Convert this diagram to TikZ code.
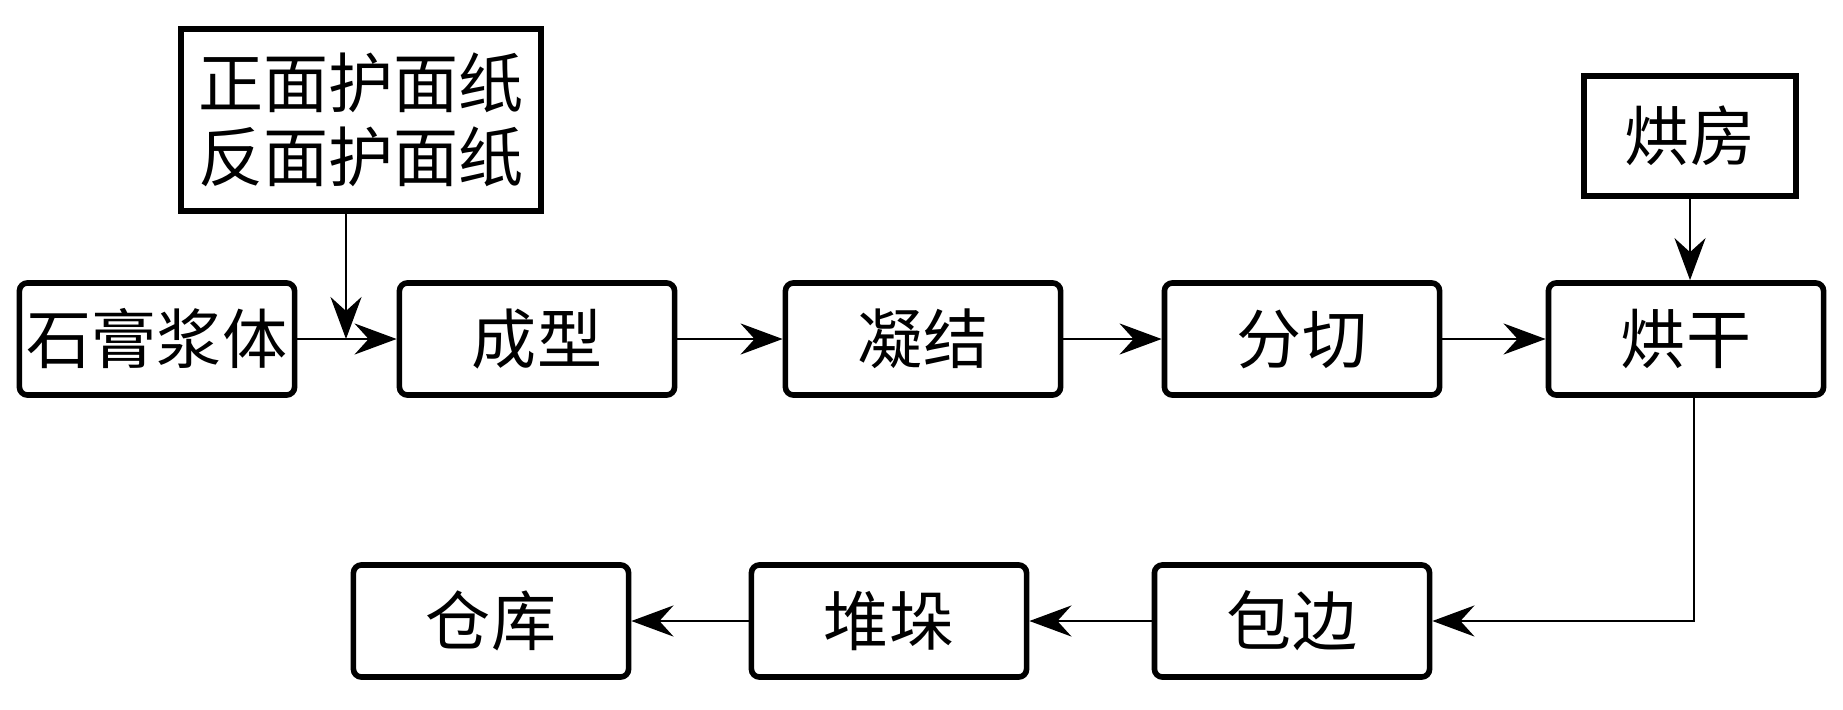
\documentclass[tikz,border=0pt]{standalone}
\usepackage{fontspec}
\setmainfont{Noto Sans CJK SC}
\usetikzlibrary{arrows.meta}

\begin{document}
\begin{tikzpicture}[x=0.01cm, y=-0.01cm,
    >={Stealth[length=4.2mm, width=3.1mm, inset=1.4mm]}]

        \useasboundingbox (0,0) rectangle (1843,709);

        \begin{scope}[every node/.style={draw, rounded corners=0.08cm, line width=1.6pt,
            minimum width=2.75cm, minimum height=1.12cm, inner sep=0pt,
            font=\fontsize{18.5}{21}\selectfont}]
          \node (1)  at (157,339)  {石膏浆体};
          \node (2)  at (537,339)  {成型};
          \node (3)  at (923,339)  {凝结};
          \node (4)  at (1302,339) {分切};
          \node (5)  at (1686,339) {烘干};
          \node (6)  at (491,621)  {仓库};
          \node (7)  at (889,621)  {堆垛};
          \node (8)  at (1292,621) {包边};
        \end{scope}

        \begin{scope}[every node/.style={draw, line width=1.9pt, inner sep=0pt, align=center,
            font=\fontsize{18.5}{21}\selectfont}]
          \node[minimum width=3.6cm, minimum height=1.82cm]  (9)  at (361,120)  {正面护面纸\\反面护面纸};
          \node[minimum width=2.12cm, minimum height=1.2cm]  (10) at (1690,136) {烘房};
        \end{scope}

        \coordinate (j) at (346,339);

        \begin{scope}[every edge/.style={draw, line width=0.8pt, ->}]
          \path (1)  edge (2);
          \path (2)  edge (3);
          \path (3)  edge (4);
          \path (4)  edge (5);
          \path (9.south -| j)  edge (j);
          \path (10)  edge (10 |- 5.north);
          \path (8)  edge (7);
          \path (7)  edge (6);
        \end{scope}

        \draw[->, line width=0.8pt] ([xshift=0.08cm]5.south) |- (8);

      \end{tikzpicture}
\end{document}
